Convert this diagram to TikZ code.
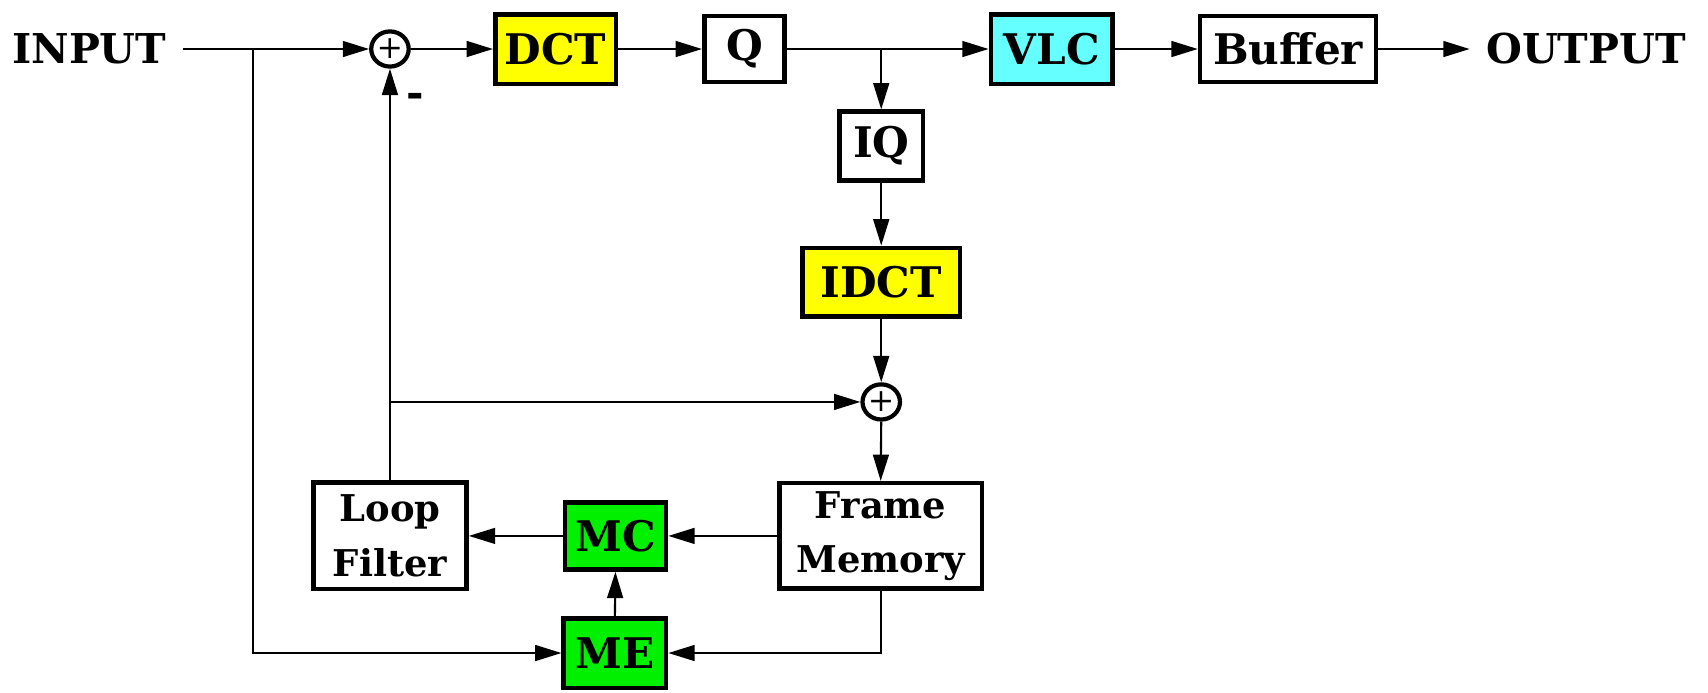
\documentclass[tikz,border=0pt]{standalone}
\usepackage{fontspec}
\setmainfont{DejaVu Serif}
\definecolor{EncYellow}{HTML}{FFFF00}
\definecolor{EncCyan}{HTML}{66FFFF}
\definecolor{EncGreen}{HTML}{00F000}
\usetikzlibrary{positioning,arrows.meta,shapes.geometric}

\begin{document}
\begin{tikzpicture}[x=0.010893cm, y=-0.010893cm,
    blk/.style={draw, line width=1.3pt, inner sep=0pt, align=center,
                font=\fontsize{12}{14}\selectfont\bfseries},
    smallblk/.style={blk, font=\fontsize{10.5}{14.5}\selectfont\bfseries},
    sumnode/.style={draw, ellipse, line width=1.2pt, inner sep=0pt,
                    minimum width=8.2pt, minimum height=10pt},
    io/.style={inner xsep=4.5pt, font=\fontsize{11.7}{14}\selectfont\bfseries},
    wire/.style={line width=0.6pt},
    arr/.style={wire, -{Triangle[length=7.5pt,width=4.5pt]}}]
  \useasboundingbox (0,0) rectangle (1568,636);

  % forward path
  \node[io] (in) at (82,45) {INPUT};
  \node[sumnode] (s1) at (358,45) {\raisebox{-3pt}{\fontsize{9}{9}\selectfont +}};
  \node[blk, fill=EncYellow, minimum width=34.3pt, minimum height=19.8pt] (dct) at (510,45) {DCT};
  \node[blk, minimum width=22.9pt, minimum height=18.8pt] (q) at (683.5,45) {Q};
  \node[blk, fill=EncCyan, minimum width=34.6pt, minimum height=19.8pt] (vlc) at (965.5,45) {VLC};
  \node[blk, minimum width=50.1pt, minimum height=18.8pt] (buf) at (1182.5,45) {Buffer};
  \node[io] (out) at (1456,45) {OUTPUT};
  \node[font=\fontsize{12}{12}\selectfont\bfseries] (minus) at (381,92) {-};

  % reconstruction loop
  \node[blk, minimum width=23.8pt, minimum height=19.5pt] (iq) at (809,134) {IQ};
  \node[blk, fill=EncYellow, minimum width=44.9pt, minimum height=19.5pt] (idct) at (809,259) {IDCT};
  \node[sumnode] (s2) at (809,369) {\raisebox{-3pt}{\fontsize{9}{9}\selectfont +}};
  \node[smallblk, minimum width=57.6pt, minimum height=30pt] (fm) at (808.5,492) {Frame\\[1pt]Memory};
  \node[blk, fill=EncGreen, minimum width=28.8pt, minimum height=19.1pt] (mc) at (565,492) {MC};
  \node[blk, fill=EncGreen, minimum width=29.1pt, minimum height=19.8pt] (me) at (564.5,599.5) {ME};
  \node[smallblk, minimum width=43.6pt, minimum height=30.3pt] (lf) at (358,492) {Loop\\[1pt]Filter};

  \coordinate (br) at (232,0 |- in.east);
  \coordinate (qb) at (iq.north |- q.east);
  \coordinate (lb) at (lf.north |- s2.west);

  \draw[arr] (in.east) -- (s1.west);
  \draw[arr] (s1.east) -- (dct.west);
  \draw[arr] (dct.east) -- (q.west);
  \draw[arr] (q.east) -- (vlc.west);
  \draw[arr] (vlc.east) -- (buf.west);
  \draw[arr] (buf.east) -- (out.west);
  \draw[arr] (qb) -- (iq.north);
  \draw[arr] (iq.south) -- (idct.north);
  \draw[arr] (idct.south) -- (s2.north);
  \draw[arr] (s2.south) -- (fm.north);
  \draw[arr] (fm.west) -- (mc.east);
  \draw[arr] (mc.west) -- (lf.east);
  \draw[arr] (me.north) -- (mc.south);
  \draw[arr] (fm.south) |- (me.east);
  \draw[arr] (br) |- (me.west);
  \draw[arr] (lf.north) -- (lf.north |- s1.south);
  \draw[arr] (lb) -- (s2.west);
\end{tikzpicture}
\end{document}
